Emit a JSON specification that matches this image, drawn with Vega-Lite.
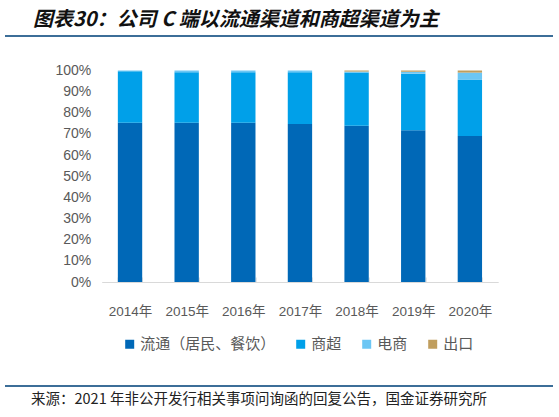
{
  "$schema": "https://vega.github.io/schema/vega-lite/v6.json",
  "autosize": {"type": "none"},
  "width": 396.5,
  "height": 211.5,
  "padding": {"left": 101.7, "top": 70.5, "right": 60.8, "bottom": 135},
  "background": "white",
  "config": {"view": {"stroke": null}, "font": "Liberation Sans, Noto Sans CJK SC"},
  "datasets": {
    "shares": [
      {"year": "2014年", "channel": "流通（居民、餐饮）", "k": 1, "share": 75.3},
      {"year": "2014年", "channel": "商超", "k": 2, "share": 24.3},
      {"year": "2014年", "channel": "电商", "k": 3, "share": 0.4},
      {"year": "2014年", "channel": "出口", "k": 4, "share": 0},
      {"year": "2015年", "channel": "流通（居民、餐饮）", "k": 1, "share": 75.3},
      {"year": "2015年", "channel": "商超", "k": 2, "share": 23.9},
      {"year": "2015年", "channel": "电商", "k": 3, "share": 0.8},
      {"year": "2015年", "channel": "出口", "k": 4, "share": 0},
      {"year": "2016年", "channel": "流通（居民、餐饮）", "k": 1, "share": 75.3},
      {"year": "2016年", "channel": "商超", "k": 2, "share": 23.9},
      {"year": "2016年", "channel": "电商", "k": 3, "share": 0.8},
      {"year": "2016年", "channel": "出口", "k": 4, "share": 0},
      {"year": "2017年", "channel": "流通（居民、餐饮）", "k": 1, "share": 74.7},
      {"year": "2017年", "channel": "商超", "k": 2, "share": 24.5},
      {"year": "2017年", "channel": "电商", "k": 3, "share": 0.8},
      {"year": "2017年", "channel": "出口", "k": 4, "share": 0},
      {"year": "2018年", "channel": "流通（居民、餐饮）", "k": 1, "share": 73.9},
      {"year": "2018年", "channel": "商超", "k": 2, "share": 25.2},
      {"year": "2018年", "channel": "电商", "k": 3, "share": 0.4},
      {"year": "2018年", "channel": "出口", "k": 4, "share": 0.5},
      {"year": "2019年", "channel": "流通（居民、餐饮）", "k": 1, "share": 71.7},
      {"year": "2019年", "channel": "商超", "k": 2, "share": 26.8},
      {"year": "2019年", "channel": "电商", "k": 3, "share": 0.9},
      {"year": "2019年", "channel": "出口", "k": 4, "share": 0.6},
      {"year": "2020年", "channel": "流通（居民、餐饮）", "k": 1, "share": 69.0},
      {"year": "2020年", "channel": "商超", "k": 2, "share": 26.8},
      {"year": "2020年", "channel": "电商", "k": 3, "share": 3.2},
      {"year": "2020年", "channel": "出口", "k": 4, "share": 1.0}
    ],
    "header": [{"label": "图表30：公司 C 端以流通渠道和商超渠道为主"}],
    "footer": [{"label": "来源：2021 年非公开发行相关事项问询函的回复公告，国金证券研究所"}]
  },
  "layer": [
    {
      "data": {"name": "shares"},
      "mark": {"type": "bar"},
      "encoding": {
        "x": {
          "field": "year", "type": "nominal",
          "scale": {"paddingInner": 0.57, "paddingOuter": 0.285},
          "axis": {
            "title": null, "labelAngle": 0, "labelFontSize": 13.5, "labelColor": "#595959",
            "labelPadding": 27, "domainColor": "#d9d9d9", "tickColor": "#d9d9d9",
            "tickBand": "extent", "tickSize": -5, "labelFont": "Liberation Sans, Noto Sans CJK SC"
          }
        },
        "y": {
          "field": "share", "type": "quantitative", "stack": "normalize",
          "scale": {"domain": [0, 1]},
          "axis": {
            "title": null, "format": ".0%", "values": [0,0.1,0.2,0.3,0.4,0.5,0.6,0.7,0.8,0.9,1],
            "labelOverlap": false,
            "grid": false, "domain": false, "ticks": false, "labelPadding": 11,
            "labelFontSize": 14, "labelColor": "#595959"
          }
        },
        "color": {
          "field": "channel", "type": "nominal",
          "sort": ["流通（居民、餐饮）", "商超", "电商", "出口"],
          "scale": {
            "domain": ["流通（居民、餐饮）", "商超", "电商", "出口"],
            "range": ["#0068B7", "#00A0E9", "#6CC6F4", "#C09E5E"]
          },
          "legend": {
            "title": null, "orient": "none", "direction": "horizontal",
            "legendX": 20.5, "legendY": 266,
            "symbolType": "square", "symbolSize": 81, "symbolStrokeWidth": 0,
            "labelFontSize": 15, "labelColor": "#595959", "labelOffset": 3,
            "columnPadding": 17, "labelFont": "Noto Sans CJK SC"
          }
        },
        "order": {"field": "k", "type": "quantitative", "sort": "ascending"}
      }
    },
    {
      "data": {"name": "header"},
      "mark": {"type": "text", "align": "left", "baseline": "alphabetic", "fontSize": 20, "fontWeight": "bold", "fontStyle": "italic", "font": "Noto Sans CJK SC", "color": "#111111"},
      "encoding": {"x": {"value": -68.7}, "y": {"value": -44.5}, "text": {"field": "label"}}
    },
    {
      "data": {"name": "header"},
      "mark": {"type": "rule", "color": "#3C6E98", "strokeWidth": 2},
      "encoding": {"x": {"value": -96.7}, "x2": {"value": 451.3}, "y": {"value": -34.5}}
    },
    {
      "data": {"name": "footer"},
      "mark": {"type": "rule", "color": "#3C6E98", "strokeWidth": 2},
      "encoding": {"x": {"value": -96.7}, "x2": {"value": 451.3}, "y": {"value": 315.5}}
    },
    {
      "data": {"name": "footer"},
      "mark": {"type": "text", "align": "left", "baseline": "middle", "fontSize": 14.5, "font": "Noto Sans CJK SC", "color": "#222222"},
      "encoding": {"x": {"value": -70.7}, "y": {"value": 329.5}, "text": {"field": "label"}}
    }
  ]
}
